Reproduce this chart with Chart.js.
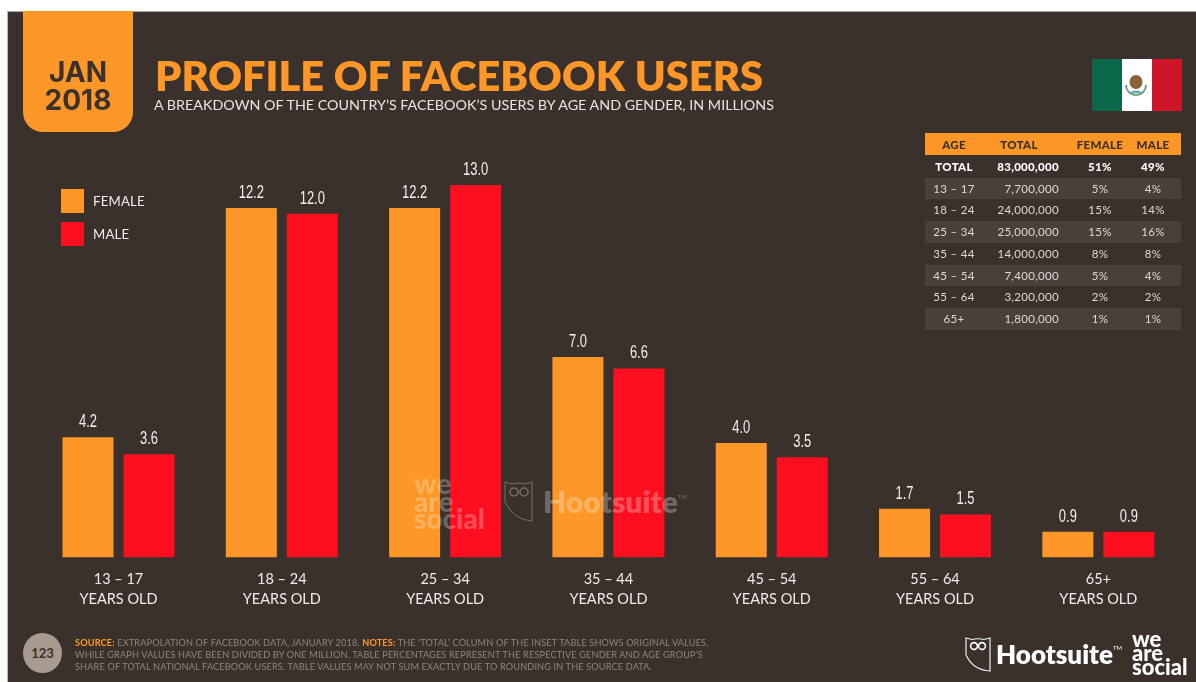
<!DOCTYPE html>
<html>
<head>
<meta charset="utf-8">
<title>Profile of Facebook users</title>
<script src="https://cdn.jsdelivr.net/npm/chart.js@4"></script>
<style>
  html, body { margin: 0; padding: 0; background: #fff; }
  #slide { position: relative; width: 1196px; height: 682px; overflow: hidden; font-family: Lato, sans-serif; }
  #bg { position: absolute; left: 7px; top: 11px; right: 0; bottom: 0; background: #3a312c; border-top: 1px solid #aaa; border-left: 1px solid #bbb; box-sizing: border-box; }
  canvas { position: absolute; left: 0; top: 0; }
  .abs { position: absolute; white-space: nowrap; }
  #tab { left: 23px; top: 11px; width: 110px; height: 121px; background: #fe9727; border-radius: 0 0 20px 20px; }
  #date { left: 23px; top: 58px; width: 110px; text-align: center; font: 700 28px/28px Inter, sans-serif; color: #3a312c; }
  #title { left: 155px; top: 50px; font: 800 41.5px/50px Lato, sans-serif; color: #fe9727; letter-spacing: .03px; }
  #sub { left: 154px; top: 96px; font: 400 14.3px/18px Lato, sans-serif; color: #e8e6e4; letter-spacing: 0; }
  #flag { left: 1092px; top: 59px; width: 90px; height: 52px; display: flex; }
  #flag div { flex: 1; }
  #legend .sw { position: absolute; width: 23px; height: 24px; }
  #legend .lb { position: absolute; font: 400 13.2px/18px Lato, sans-serif; color: #eee; letter-spacing: .2px; }
  #tbl { left: 925px; top: 133px; width: 256px; }
  #tbl .row { position: absolute; left: 0; width: 256px; font: 400 11.5px/21.7px Lato, sans-serif; color: #ddd9d6; letter-spacing: .3px; }
  #tbl .row span { position: absolute; top: 0; }
  #tbl .age { left: 0; width: 58px; text-align: center; }
  #tbl .tot { right: 122px; }
  #tbl .fem { left: 148px; width: 54px; text-align: center; }
  #tbl .mal { left: 202px; width: 52px; text-align: center; }
  #tbl .head { background: #fe9727; color: #3a312c; font-weight: 900; height: 23px; line-height: 23px; }
  #tbl .head .tot { right: auto; left: 62px; width: 64px; text-align: center; }
  #tbl .strong { color: #fff; font-weight: 900; }
  #tbl .odd { background: #4a403b; }
  #wm1 { left: 414px; top: 475px; font: 900 28px/17.5px Lato, sans-serif; color: rgba(255,255,255,.26); }
  #wm2 { left: 543px; top: 482px; font: 800 30px/38px Lato, sans-serif; color: rgba(255,255,255,.27); }
  #wm2 sup, #hs sup { font-size: 6px; font-weight: 400; vertical-align: 14px; line-height: 0; }
  #page { left: 23px; top: 633px; width: 39px; height: 40px; border-radius: 50%; background: #a89a8f; text-align: center; font: 700 13px/40px Lato, sans-serif; color: #3a312c; }
  #foot { left: 75px; top: 637px; font: 400 9.2px/12.2px Lato, sans-serif; color: #90857e; letter-spacing: .13px; }
  #foot b { color: #fe9727; font-weight: 700; }
  #hs { left: 996px; top: 636px; font: 800 26px/36px Lato, sans-serif; color: #fff; }
  #was { left: 1132px; top: 632px; font: 900 22px/14px Lato, sans-serif; color: #fff; }
</style>
</head>
<body>
<div id="slide">
  <div id="bg"></div>
  <canvas id="chart" width="1196" height="682"></canvas>
  <div class="abs" id="tab"></div>
  <div class="abs" id="date">JAN<br>2018</div>
  <div class="abs" id="title">PROFILE OF FACEBOOK USERS</div>
  <div class="abs" id="sub">A BREAKDOWN OF THE COUNTRY’S FACEBOOK’S USERS BY AGE AND GENDER, IN MILLIONS</div>
  <div class="abs" id="flag">
    <div style="background:#0b6848"></div>
    <div style="background:#fff"></div>
    <div style="background:#ce1528"></div>
  </div>
  <svg class="abs" style="left:1124px;top:72px" width="24" height="26" viewBox="0 0 24 26">
    <path d="M2 13a10 10 0 0 0 20 0" fill="none" stroke="#5f9a68" stroke-width="1.6"/>
    <ellipse cx="12" cy="10" rx="6.5" ry="7" fill="#8a6238"/>
    <ellipse cx="12" cy="20" rx="5" ry="1.6" fill="#5fa9bb"/>
  </svg>
  <div class="abs" id="legend"></div>
  <div class="abs" id="tbl"></div>
  <div class="abs" id="wm1">we<br>are<br>social</div>
  <svg class="abs" style="left:504px;top:480px" width="30" height="44" viewBox="0 0 30 44">
    <path d="M1 2 L8 4 Q15 2 22 4 L28 2 V41 Q10 40 1 22 Z" fill="none" stroke="rgba(255,255,255,.3)" stroke-width="1"/>
    <circle cx="10" cy="12" r="4" fill="none" stroke="rgba(255,255,255,.3)" stroke-width="1.5"/>
    <circle cx="20" cy="12" r="4" fill="none" stroke="rgba(255,255,255,.3)" stroke-width="1.5"/>
  </svg>
  <div class="abs" id="wm2">Hootsuite<sup>TM</sup></div>
  <div class="abs" id="page">123</div>
  <div class="abs" id="foot"><b>SOURCE:</b> EXTRAPOLATION OF FACEBOOK DATA, JANUARY 2018. <b>NOTES:</b> THE ‘TOTAL’ COLUMN OF THE INSET TABLE SHOWS ORIGINAL VALUES,<br>WHILE GRAPH VALUES HAVE BEEN DIVIDED BY ONE MILLION. TABLE PERCENTAGES REPRESENT THE RESPECTIVE GENDER AND AGE GROUP’S<br>SHARE OF TOTAL NATIONAL FACEBOOK USERS. TABLE VALUES MAY NOT SUM EXACTLY DUE TO ROUNDING IN THE SOURCE DATA.</div>
  <svg class="abs" style="left:965px;top:636px" width="26" height="37" viewBox="0 0 26 37">
    <path d="M1 2 L7 3.5 Q13 2 19 3.5 L25 2 V35 Q8 34 1 19 Z" fill="none" stroke="#eee" stroke-width="1.2"/>
    <circle cx="9" cy="10" r="3.4" fill="none" stroke="#fff" stroke-width="1.6"/>
    <circle cx="17" cy="10" r="3.4" fill="none" stroke="#fff" stroke-width="1.6"/>
  </svg>
  <div class="abs" id="hs">Hootsuite<sup>TM</sup></div>
  <div class="abs" id="was">we<br>are<br>social</div>
</div>

<script>
const categories = ['13 – 17', '18 – 24', '25 – 34', '35 – 44', '45 – 54', '55 – 64', '65+'];
const femaleValues = [4.2, 12.2, 12.2, 7.0, 4.0, 1.7, 0.9];
const maleValues = [3.6, 12.0, 13.0, 6.6, 3.5, 1.5, 0.9];
const seriesNames = ['FEMALE', 'MALE'];
const seriesColors = ['#fe9727', '#fe0f1f'];

// inset table
const tableHead = ['AGE', 'TOTAL', 'FEMALE', 'MALE'];
const tableAges = ['TOTAL', '13 – 17', '18 – 24', '25 – 34', '35 – 44', '45 – 54', '55 – 64', '65+'];
const tableTotals = ['83,000,000', '7,700,000', '24,000,000', '25,000,000', '14,000,000', '7,400,000', '3,200,000', '1,800,000'];
const tableFemale = ['51%', '5%', '15%', '15%', '8%', '5%', '2%', '1%'];
const tableMale = ['49%', '4%', '14%', '16%', '8%', '4%', '2%', '1%'];

// value labels above the bars, squeezed sideways because there is no condensed font
const valueLabels = {
  id: 'valueLabels',
  afterDatasetsDraw(chart) {
    const ctx = chart.ctx;
    chart.data.datasets.forEach((ds, i) => {
      chart.getDatasetMeta(i).data.forEach((bar, j) => {
        ctx.save();
        ctx.translate(bar.x, bar.y - 15);
        ctx.scale(0.72, 1);
        ctx.fillStyle = '#f2f0ee';
        ctx.font = '18px "Liberation Sans", sans-serif';
        ctx.textAlign = 'center';
        ctx.textBaseline = 'middle';
        ctx.fillText(ds.data[j].toFixed(1), 0, 0);
        ctx.restore();
      });
    });
  }
};

new Chart(document.getElementById('chart'), {
  type: 'bar',
  data: {
    labels: categories.map(c => [c, 'YEARS OLD']),
    datasets: [
      { label: seriesNames[0], data: femaleValues, backgroundColor: seriesColors[0] },
      { label: seriesNames[1], data: maleValues, backgroundColor: seriesColors[1] }
    ]
  },
  options: {
    responsive: false,
    animation: false,
    layout: { padding: { left: 36.85, right: 16, top: 156.4, bottom: 0 } },
    datasets: { bar: { categoryPercentage: 0.747, barPercentage: 0.836 } },
    plugins: { legend: { display: false }, tooltip: { enabled: false } },
    scales: {
      x: {
        grid: { display: false },
        border: { display: false },
        afterFit(axis) { axis.height = 124.5; },
        ticks: {
          color: '#eeecea',
          padding: 4,
          maxRotation: 0,
          font: { family: 'Lato, sans-serif', size: 14.5, lineHeight: 1.35 }
        }
      },
      y: { display: false, min: 0, max: 14 }
    }
  },
  plugins: [valueLabels]
});

// legend
const legend = document.getElementById('legend');
seriesNames.forEach((name, i) => {
  const top = 189 + i * 33;
  legend.innerHTML += `<div class="sw" style="left:61px;top:${top}px;background:${seriesColors[i]}"></div>` +
    `<div class="lb" style="left:93px;top:${top + 3}px">${name}</div>`;
});

// table rows
const tbl = document.getElementById('tbl');
function addRow(cells, cls, top) {
  tbl.innerHTML += `<div class="row ${cls}" style="top:${top}px;height:21.7px">` +
    `<span class="age">${cells[0]}</span><span class="tot">${cells[1]}</span>` +
    `<span class="fem">${cells[2]}</span><span class="mal">${cells[3]}</span></div>`;
}
addRow(tableHead, 'head', 0);
tableAges.forEach((age, i) => {
  const cls = i === 0 ? 'strong' : (i % 2 ? 'odd' : '');
  addRow([age, tableTotals[i], tableFemale[i], tableMale[i]], cls, 23 + i * 21.7);
});
</script>
</body>
</html>
